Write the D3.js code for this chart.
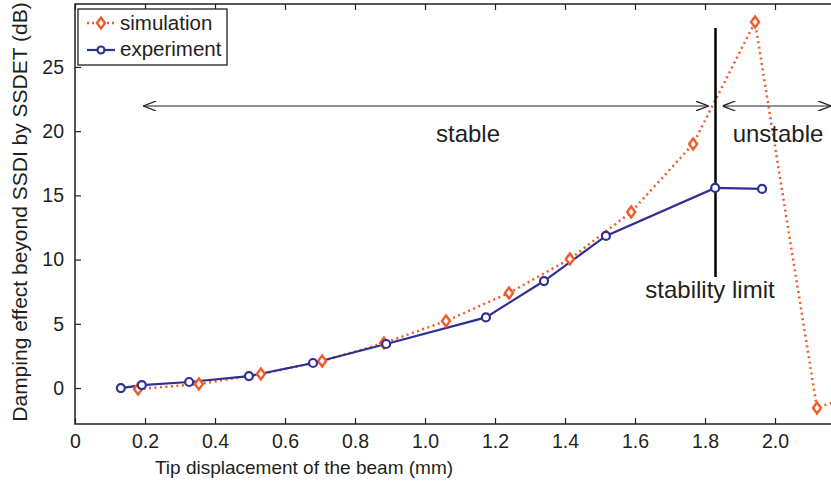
<!DOCTYPE html>
<html>
<head>
<meta charset="utf-8">
<script src="https://cdn.jsdelivr.net/npm/d3@7"></script>
<style>
  body { margin: 0; background: #fff; }
  text { font-family: "Liberation Sans", Arial, sans-serif; fill: #231f20; }
</style>
</head>
<body>
<div id="chart"></div>
<script>
// data
var expX = [0.131, 0.191, 0.326, 0.497, 0.68, 0.889, 1.174, 1.34, 1.517, 1.829, 1.963];
var expY = [0.0, 0.23, 0.47, 0.93, 1.95, 3.43, 5.5, 8.33, 11.84, 15.58, 15.5];
var simX = [0.18, 0.354, 0.531, 0.706, 0.883, 1.06, 1.24, 1.414, 1.589, 1.766, 1.943, 2.12, 2.3];
var simY = [-0.08, 0.31, 1.09, 2.1, 3.5, 5.22, 7.4, 10.05, 13.7, 19.0, 28.5, -1.56, 0.2];
var xTicks = [0, 0.2, 0.4, 0.6, 0.8, 1.0, 1.2, 1.4, 1.6, 1.8, 2.0];
var yTicks = [0, 5, 10, 15, 20, 25];
var stabilityLimit = 1.83;

var orange = "#f15a29", blue = "#2e3192";

var svg = d3.select("#chart")
  .append("svg")
  .attr("width", 831).attr("height", 492);

// scales: x(0)=75, 350px per mm ; y(0)=388, 12.84px per dB
var x = d3.scaleLinear().domain([0, 2.2]).range([75, 845]);
var y = d3.scaleLinear().domain([-2.8, 29.9]).range([424, 4]);

svg.append("defs").append("clipPath").attr("id", "plot")
  .append("rect").attr("x", 75).attr("y", 4).attr("width", 760).attr("height", 420);

// frame
svg.append("rect")
  .attr("x", 75).attr("y", 4).attr("width", 800).attr("height", 420)
  .attr("fill", "none").attr("stroke", "#231f20").attr("stroke-width", 1.5);

// axes with inward ticks
var xAxis = svg.append("g").attr("transform", "translate(0,424)")
  .call(d3.axisBottom(x).tickValues(xTicks).tickSizeInner(-6).tickSizeOuter(0).tickPadding(10)
    .tickFormat(function(d) { return d === 0 ? "0" : d.toFixed(1); }));
var xTop = svg.append("g").attr("transform", "translate(0,4)")
  .call(d3.axisTop(x).tickValues(xTicks).tickSizeInner(-6).tickSizeOuter(0).tickFormat(""));
var yAxis = svg.append("g").attr("transform", "translate(75,0)")
  .call(d3.axisLeft(y).tickValues(yTicks).tickSizeInner(-6).tickSizeOuter(0).tickPadding(11));

[xAxis, xTop, yAxis].forEach(function(g) {
  g.select(".domain").remove();
  g.selectAll("line").attr("stroke", "#231f20").attr("stroke-width", 1.2);
  g.selectAll("text").attr("font-size", 19.5).attr("fill", "#231f20");
});

// axis titles
svg.append("text")
  .attr("x", 304).attr("y", 474)
  .attr("text-anchor", "middle").attr("font-size", 19)
  .text("Tip  displacement of the beam (mm)");
svg.append("text")
  .attr("transform", "translate(27,212) rotate(-90)")
  .attr("text-anchor", "middle").attr("font-size", 21)
  .text("Damping effect beyond SSDI by SSDET (dB)");

var plot = svg.append("g").attr("clip-path", "url(#plot)");

// arrow markers
var defs = svg.select("defs");
defs.append("marker").attr("id", "ah").attr("viewBox", "0 0 13 10")
  .attr("refX", 13).attr("refY", 5).attr("markerWidth", 13).attr("markerHeight", 10)
  .attr("markerUnits", "userSpaceOnUse").attr("orient", "auto-start-reverse")
  .append("path").attr("d", "M0,0 L13,5 L0,10").attr("fill", "none").attr("stroke", "#231f20").attr("stroke-width", 1.3);

// stable / unstable arrows
plot.append("line")
  .attr("x1", x(0.195)).attr("x2", x(1.81)).attr("y1", 106).attr("y2", 106)
  .attr("stroke", "#231f20").attr("stroke-width", 1.2)
  .attr("marker-start", "url(#ah)").attr("marker-end", "url(#ah)");
plot.append("line")
  .attr("x1", x(1.85)).attr("x2", x(2.16)).attr("y1", 106).attr("y2", 106)
  .attr("stroke", "#231f20").attr("stroke-width", 1.2)
  .attr("marker-start", "url(#ah)").attr("marker-end", "url(#ah)");

// simulation series
var simData = simX.map(function(v, i) { return [v, simY[i]]; });
var expData = expX.map(function(v, i) { return [v, expY[i]]; });
var line = d3.line().x(function(d) { return x(d[0]); }).y(function(d) { return y(d[1]); });

plot.append("path").datum(simData)
  .attr("d", line).attr("fill", "none").attr("stroke", orange)
  .attr("stroke-width", 2.5).attr("stroke-dasharray", "2,3.5");

// stability limit line
plot.append("line")
  .attr("x1", x(stabilityLimit)).attr("x2", x(stabilityLimit))
  .attr("y1", 28).attr("y2", 277)
  .attr("stroke", "#000").attr("stroke-width", 2.5);

plot.append("path").datum(expData)
  .attr("d", line).attr("fill", "none").attr("stroke", blue).attr("stroke-width", 2.2);

var diamond = "M0,-5.5L4,0L0,5.5L-4,0Z";
plot.selectAll(".sim").data(simData).enter().append("path")
  .attr("class", "sim")
  .attr("transform", function(d) { return "translate(" + x(d[0]) + "," + y(d[1]) + ")"; })
  .attr("d", diamond).attr("fill", "#fff").attr("stroke", orange).attr("stroke-width", 2.4);

plot.selectAll(".exp").data(expData).enter().append("circle")
  .attr("class", "exp")
  .attr("cx", function(d) { return x(d[0]); }).attr("cy", function(d) { return y(d[1]); })
  .attr("r", 4).attr("fill", "#fff").attr("stroke", blue).attr("stroke-width", 2.2);

// annotations
svg.append("text").attr("x", 468).attr("y", 142).attr("text-anchor", "middle")
  .attr("font-size", 24).text("stable");
svg.append("text").attr("x", 778).attr("y", 142).attr("text-anchor", "middle")
  .attr("font-size", 24).text("unstable");
svg.append("text").attr("x", 710).attr("y", 298).attr("text-anchor", "middle")
  .attr("font-size", 24).text("stability limit");

// legend
var legend = svg.append("g");
legend.append("rect").attr("x", 78).attr("y", 9).attr("width", 149).attr("height", 56)
  .attr("fill", "#fff").attr("stroke", "#231f20").attr("stroke-width", 1.3);
legend.append("line").attr("x1", 87).attr("x2", 115).attr("y1", 23).attr("y2", 23)
  .attr("stroke", orange).attr("stroke-width", 2.5).attr("stroke-dasharray", "2,3");
legend.append("path").attr("transform", "translate(101,23)").attr("d", diamond)
  .attr("fill", "#fff").attr("stroke", orange).attr("stroke-width", 2.4);
legend.append("line").attr("x1", 87).attr("x2", 115).attr("y1", 50).attr("y2", 50)
  .attr("stroke", blue).attr("stroke-width", 2.2);
legend.append("circle").attr("cx", 101).attr("cy", 50).attr("r", 3.5)
  .attr("fill", "#fff").attr("stroke", blue).attr("stroke-width", 2.2);
legend.append("text").attr("x", 120).attr("y", 30).attr("font-size", 20.5).text("simulation");
legend.append("text").attr("x", 120).attr("y", 56).attr("font-size", 20.5).text("experiment");
</script>
</body>
</html>
